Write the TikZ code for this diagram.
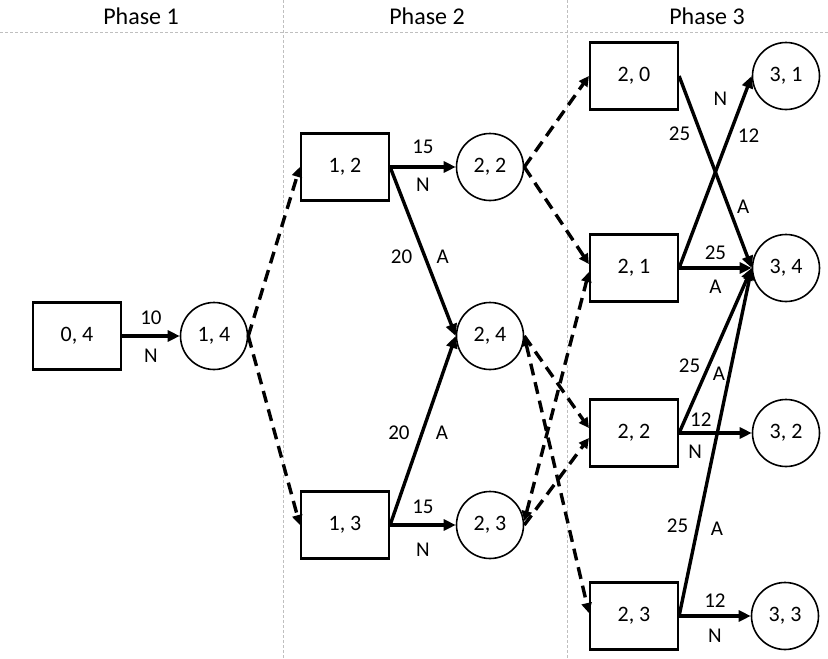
\documentclass[tikz,border=0pt]{standalone}
\usepackage{fontspec}
\setmainfont{Carlito}
\usetikzlibrary{arrows.meta,positioning}

\begin{document}
\begin{tikzpicture}[x=1pt, y=-1pt,
  box/.style={draw, line width=2.2pt, minimum width=88pt, minimum height=67pt,
              inner sep=0pt, font=\fontsize{22}{26}\selectfont},
  rnd/.style={draw, circle, line width=1.6pt, minimum size=67pt,
              inner sep=0pt, font=\fontsize{22}{26}\selectfont},
  arr/.style={-{Triangle[length=12pt,width=11pt]}, line width=3.4pt},
  darr/.style={-{Triangle[length=10pt,width=10pt]}, line width=3.4pt,
               dash pattern=on 12pt off 7pt},
  ddarr/.style={{Triangle[length=10pt,width=10pt]}-{Triangle[length=10pt,width=10pt]},
                line width=3.4pt, dash pattern=on 12pt off 7pt},
  lbl/.style={inner sep=0pt, font=\fontsize{21}{25}\selectfont},
  phase/.style={font=\fontsize{24}{28}\selectfont},
  sepline/.style={draw=gray!50, line width=0.8pt, dash pattern=on 3pt off 2pt}
]
\fill[white] (0,0) rectangle (828,659);
\useasboundingbox (0,0) rectangle (828,659);

% phase headers and separators
\node[phase] (ph1) at (141,16) {Phase 1};
\node[phase] (ph2) at (427,16) {Phase 2};
\node[phase] (ph3) at (707,16) {Phase 3};
\draw[sepline] (0,32) -- (828,32);
\draw[sepline] (283,0) -- (283,659);
\draw[sepline] (567,0) -- (567,659);

% states
\node[box] (b04) at (77,336)  {0, 4};
\node[rnd] (c14) at (214,336) {1, 4};
\node[box] (b12) at (345,167) {1, 2};
\node[box] (b13) at (345,525) {1, 3};
\node[rnd] (c22) at (490,167) {2, 2};
\node[rnd] (c24) at (490,336) {2, 4};
\node[rnd] (c23) at (490,525) {2, 3};
\node[box] (b20) at (634,76)  {2, 0};
\node[box] (b21) at (634,268) {2, 1};
\node[box] (b22) at (634,433) {2, 2};
\node[box] (b23) at (634,616) {2, 3};
\node[rnd] (c31) at (786,76)  {3, 1};
\node[rnd] (c34) at (786,268) {3, 4};
\node[rnd] (c32) at (786,433) {3, 2};
\node[rnd] (c33) at (785,616) {3, 3};

% decisions
\draw[arr] (b04) -- node[lbl, above=10pt] (l04a) {10}
                    node[lbl, below=11pt] (l04b) {N} (c14);
\draw[arr] (b12) -- node[lbl, above=12pt] (l12a) {15}
                    node[lbl, below=9pt] (l12b) {N} (c22);
\draw[arr] (b12.east) -- node[lbl, pos=.53, left=11pt] (l12c) {20}
                         node[lbl, pos=.53, right=10pt] (l12d) {A} (c24.west);
\draw[arr] (b13.east) -- node[lbl, pos=.49, left=11pt] (l13c) {20}
                         node[lbl, pos=.49, right=12pt] (l13d) {A} (c24.west);
\draw[arr] (b13) -- node[lbl, above=10pt] (l13a) {15}
                    node[lbl, below=16pt] (l13b) {N} (c23);
\draw[arr] (b20.east) -- node[lbl, pos=.3, left=9pt] (l20a) {25}
                         node[lbl, pos=.68, right=7pt] (l20b) {A} (c34.west);
\draw[arr] (b21.east) -- node[lbl, pos=.88, left=14pt] (l21a) {N}
                         node[lbl, pos=.69, right=7pt] (l21b) {12} (c31.west);
\draw[arr] (b21) -- node[lbl, above=7pt] (l21c) {25}
                    node[lbl, below=10pt] (l21d) {A} (c34);
\draw[arr] (b22.east) -- node[lbl, pos=.41, left=7pt] (l22a) {25}
                         node[lbl, pos=.36, right=6pt] (l22b) {A} (c34.west);
\draw[arr] (b22) -- node[lbl, pos=.3, above=5pt] (l22c) {12}
                    node[lbl, pos=.22, below=10pt] (l22d) {N} (c32);
\draw[arr] (b23.east) -- node[lbl, pos=.26, left=8pt] (l23a) {25}
                         node[lbl, pos=.25, right=12pt] (l23b) {A} (c34.west);
\draw[arr] (b23) -- node[lbl, above=7pt] (l23c) {12}
                    node[lbl, below=11pt] (l23d) {N} (c33);

% transitions
\draw[darr] (c14.east) -- (b12.west);
\draw[darr] (c14.east) -- (b13.west);
\draw[darr] (c22.east) -- (b20.west);
\draw[darr] (c22.east) -- ([yshift=4pt]b21.west);
\draw[darr] (c24.east) -- ([yshift=5pt]b22.west);
\draw[ddarr] (c24.east) -- ([yshift=3pt]b23.west);
\draw[ddarr] ([yshift=4pt]c23.east) -- ([yshift=-4pt]b21.west);
\draw[darr] (c23.east) -- ([yshift=-5pt]b22.west);
\end{tikzpicture}
\end{document}
